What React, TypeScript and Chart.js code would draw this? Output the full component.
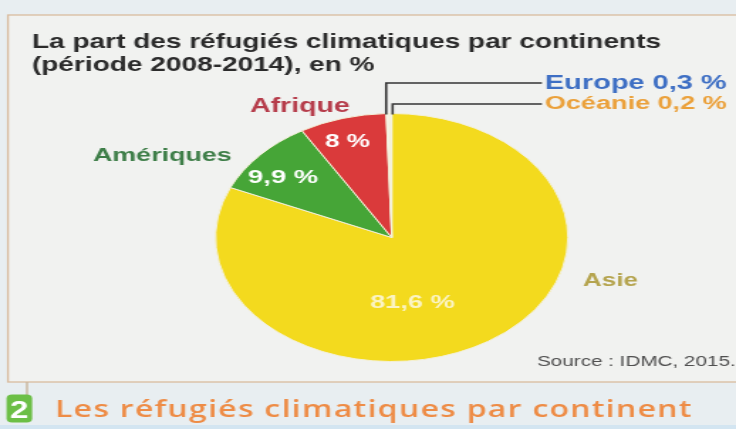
import React, { useEffect, useRef } from "react";
import { Chart, registerables } from "chart.js";

Chart.register(...registerables);

// ---- data ----
const categories = ["Asie", "Amériques", "Afrique", "Europe", "Océanie"];
const shares = [81.6, 9.9, 8, 0.3, 0.2];
const valueLabels = ["81,6 %", "9,9 %", "8 %", "0,3 %", "0,2 %"];
const titleLines = [
  "La part des réfugiés climatiques par continents",
  "(période 2008-2014), en %",
];
const sourceText = "Source : IDMC, 2015.";
const captionNumber = "2";
const captionText = "Les réfugiés climatiques par continent";

// ---- styles ----
const sliceColors = ["#f3da1e", "#46a537", "#da3a3b", "#f7f6f0", "#f7f6f0"];
const nameColors = ["#b5a44e", "#3e7e48", "#b63d4b", "#3e6fc4", "#eba13b"];
const valueColors = ["#fbf4c4", "#ffffff", "#ffffff"];

const W = 518;
const H = 429;
const SX = 736 / W;
const FONT = "'Liberation Sans', Arial, sans-serif";
const CAPTION_FONT = "'Open Sans', 'Liberation Sans', sans-serif";

// pie geometry (logical px)
const CX = 275.7;
const CY = 237.5;
const R = 124.5;

function fitText(
  ctx: CanvasRenderingContext2D,
  text: string,
  x: number,
  y: number,
  targetW: number,
  weight: string,
  color: string,
  align: CanvasTextAlign = "left"
): number {
  ctx.font = `${weight} 20px ${FONT}`;
  const w = ctx.measureText(text).width;
  const size = (20 * targetW) / w;
  ctx.font = `${weight} ${size}px ${FONT}`;
  ctx.fillStyle = color;
  ctx.textAlign = align;
  ctx.textBaseline = "alphabetic";
  ctx.fillText(text, x, y);
  return size;
}

function spacedText(
  ctx: CanvasRenderingContext2D,
  text: string,
  x: number,
  y: number,
  targetW: number,
  size: number,
  weight: string,
  family: string,
  color: string
) {
  ctx.font = `${weight} ${size}px ${family}`;
  const w = ctx.measureText(text).width;
  const ls = (targetW - w) / (text.length - 1);
  (ctx as any).letterSpacing = `${ls}px`;
  ctx.fillStyle = color;
  ctx.textAlign = "left";
  ctx.textBaseline = "alphabetic";
  ctx.fillText(text, x, y);
  (ctx as any).letterSpacing = "0px";
}

const decor = {
  id: "decor",
  beforeDraw(chart: any) {
    const ctx: CanvasRenderingContext2D = chart.ctx;
    ctx.save();
    // page background
    ctx.fillStyle = "#e8eef1";
    ctx.fillRect(0, 0, W, H);
    ctx.fillStyle = "#d3e5f1";
    ctx.fillRect(0, 425, W, 4);
    // frame
    ctx.fillStyle = "#f1f2f0";
    ctx.fillRect(5.6, 15, W, 367);
    ctx.strokeStyle = "#d9bc9f";
    ctx.lineWidth = 1.3;
    ctx.strokeRect(5.6, 15, W + 10, 367);
    // title
    const size = fitText(ctx, titleLines[0], 22.5, 48, 443, "bold", "#2b2b2b");
    ctx.font = `bold ${size}px ${FONT}`;
    ctx.fillText(titleLines[1], 22.5, 71);
    // source
    fitText(ctx, sourceText, 377.9, 366, 140, "normal", "#505050");
    // connector + badge
    ctx.strokeStyle = "#c9b59c";
    ctx.lineWidth = 1.4;
    ctx.beginPath();
    ctx.moveTo(19, 382);
    ctx.lineTo(19, 396);
    ctx.stroke();
    ctx.fillStyle = "#6cbf46";
    ctx.beginPath();
    (ctx as any).roundRect(4.6, 394.5, 18, 28, 4);
    ctx.fill();
    fitText(ctx, captionNumber, 13.6, 418, 13, "bold", "#ffffff", "center");
    // caption
    spacedText(ctx, captionText, 38.7, 417, 448, 22.5, "600", CAPTION_FONT, "#ee8c46");
    ctx.restore();
  },
  afterDatasetsDraw(chart: any) {
    const ctx: CanvasRenderingContext2D = chart.ctx;
    const meta = chart.getDatasetMeta(0);
    ctx.save();
    const props = meta.data.map((arc: any) =>
      arc.getProps(["x", "y", "startAngle", "endAngle", "outerRadius"], true)
    );
    // leader lines for the two thin slices
    const lineY = [83, 104];
    const spread = [-1.2, 1.4];
    ctx.strokeStyle = "#353535";
    ctx.lineWidth = 1.6;
    [3, 4].forEach((i, k) => {
      const p = props[i];
      const mid = (p.startAngle + p.endAngle) / 2;
      const ax = p.x + Math.cos(mid) * p.outerRadius + spread[k];
      const ay = p.y + Math.sin(mid) * p.outerRadius;
      ctx.beginPath();
      ctx.moveTo(381.4, lineY[k]);
      ctx.lineTo(ax, lineY[k]);
      ctx.lineTo(ax, ay + 1);
      ctx.stroke();
    });
    // category names
    const namePos = [
      { x: 410.3, y: 286, w: 38.7 },
      { x: 65.4, y: 161, w: 97.8 },
      { x: 175.9, y: 112, w: 70.4 },
    ];
    namePos.forEach((n, i) => fitText(ctx, categories[i], n.x, n.y, n.w, "bold", nameColors[i]));
    fitText(ctx, `${categories[3]} ${valueLabels[3]}`, 383.5, 89, 128, "bold", nameColors[3]);
    fitText(ctx, `${categories[4]} ${valueLabels[4]}`, 383.5, 108.5, 128, "bold", nameColors[4]);
    // values inside slices (offsets from pie centre)
    const valuePos = [
      { dx: 14.6, dy: 70.5, w: 59.8 },
      { dx: -76.5, dy: -54.5, w: 49.3 },
      { dx: -31.2, dy: -90.5, w: 31.7 },
    ];
    valuePos.forEach((v, i) => {
      const p = props[i];
      fitText(ctx, valueLabels[i], p.x + v.dx, p.y + v.dy, v.w, "bold", valueColors[i], "center");
    });
    ctx.restore();
  },
};

export default function App() {
  const ref = useRef<HTMLCanvasElement | null>(null);
  useEffect(() => {
    if (!ref.current) return;
    const chart = new Chart(ref.current, {
      type: "pie",
      data: {
        labels: categories,
        datasets: [
          {
            data: shares,
            backgroundColor: sliceColors,
            borderColor: "#f4f1d8",
            borderWidth: 1,
          },
        ],
      },
      options: {
        responsive: false,
        animation: false,
        devicePixelRatio: 1,
        layout: {
          padding: { left: CX - R, right: W - CX - R, top: CY - R, bottom: H - CY - R },
        },
        plugins: { legend: { display: false }, tooltip: { enabled: false } },
      },
      plugins: [decor],
    } as any);
    return () => chart.destroy();
  }, []);
  return (
    <div
      style={{
        position: "fixed",
        left: 0,
        top: 0,
        width: W,
        height: H,
        transform: `scaleX(${SX})`,
        transformOrigin: "0 0",
      }}
    >
      <canvas ref={ref} width={W} height={H} style={{ display: "block", width: W, height: H }} />
    </div>
  );
}
